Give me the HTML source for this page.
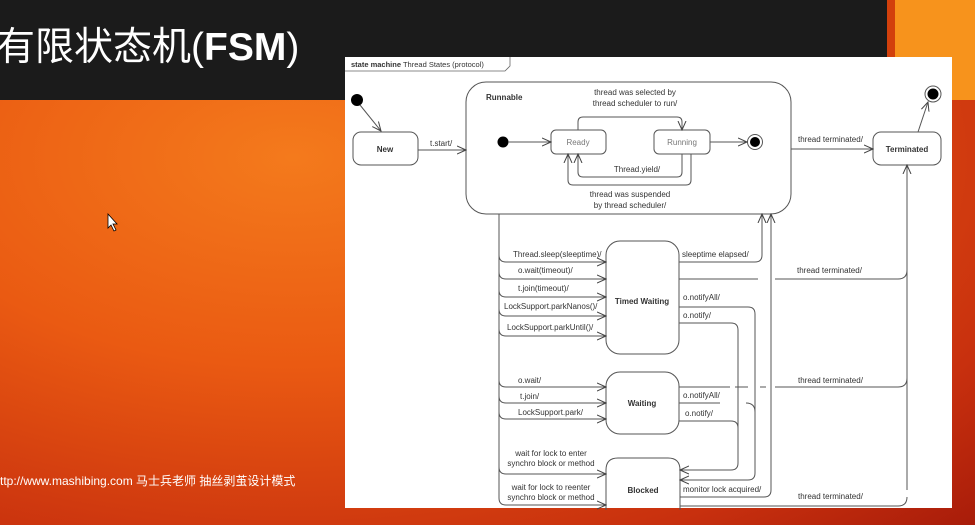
<!DOCTYPE html>
<html><head><meta charset="utf-8"><style>
html,body{margin:0;padding:0;}
body{width:975px;height:525px;overflow:hidden;position:relative;background:radial-gradient(ellipse at 30% 30%,#f47a1c 0%,#ea5a12 40%,#c8300e 80%,#a81c0a 100%);font-family:"Liberation Sans","Noto Sans CJK SC",sans-serif;}
#hdr{position:absolute;left:0;top:0;width:887px;height:100px;background:#1b1b1b;}
#redstrip{position:absolute;left:887px;top:0;width:8px;height:100px;background:#d2400c;}
#org{position:absolute;left:895px;top:0;width:80px;height:100px;background:#f7931c;}
#title{position:absolute;left:-4px;top:16px;color:#fff;font-size:39px;font-family:"Liberation Sans","Noto Sans CJK SC",sans-serif;}
#url{position:absolute;left:0;top:472px;color:#fff;font-size:12px;}
svg{position:absolute;left:0;top:0;}
</style></head><body>
<div id="hdr"></div><div id="redstrip"></div><div id="org"></div>
<div id="title">有限状态机(<b>FSM</b>)</div>
<div id="url">ttp://www.mashibing.com 马士兵老师 抽丝剥茧设计模式</div>
<svg width="975" height="525" viewBox="0 0 975 525" font-family="Liberation Sans, sans-serif" font-size="8" fill="#333">
<defs><marker id="a" markerWidth="10" markerHeight="10" refX="9" refY="5" orient="auto" markerUnits="userSpaceOnUse"><path d="M0,1 L9,5 L0,9" fill="none" stroke="#444" stroke-width="1"/></marker></defs>
<path d="M108,214 L108,228 L111,225 L114,231 L116,230 L113,224 L117,224 Z" fill="#fff" stroke="#000" stroke-width="0.8"/>
<rect x="345" y="57" width="607" height="451" fill="#fff"/>
<path d="M345,71 L505,71 L510,66 L510,57" fill="none" stroke="#666" stroke-width="0.8"/>
<text x="351" y="67" font-size="7.5"><tspan font-weight="bold">state machine</tspan> Thread States (protocol)</text>
<g fill="none" stroke="#555" stroke-width="1">
<rect x="353" y="132" width="65" height="33" rx="8"/>
<rect x="466" y="82" width="325" height="132" rx="20"/>
<rect x="551" y="130" width="55" height="24" rx="5"/>
<rect x="654" y="130" width="56" height="24" rx="5"/>
<rect x="873" y="132" width="68" height="33" rx="8"/>
<rect x="606" y="241" width="73" height="113" rx="14"/>
<rect x="606" y="372" width="73" height="62" rx="14"/>
<path d="M606,510 L606,470 Q606,458 618,458 L668,458 Q680,458 680,470 L680,510"/>
<circle cx="755" cy="142" r="7.5"/>
<circle cx="933" cy="94" r="8"/>
</g>
<g fill="#000"><circle cx="357" cy="100" r="6"/><circle cx="503" cy="142" r="5.5"/><circle cx="755" cy="142" r="5"/><circle cx="933" cy="94" r="5.5"/></g>
<g fill="none" stroke="#555" stroke-width="1" marker-end="url(#a)">
<path d="M360,105 L381,131"/>
<path d="M418,150 L466,150"/>
<path d="M508,142 L551,142"/>
<path d="M578,130 L578,122 Q578,117 583,117 L677,117 Q682,117 682,122 L682,130"/>
<path d="M682,154 L682,172 Q682,177 677,177 L583,177 Q578,177 578,172 L578,154"/>
<path d="M691,154 L691,180 Q691,185 686,185 L573,185 Q568,185 568,180 L568,154"/>
<path d="M710,142 L747,142"/>
<path d="M791,149 L873,149"/>
<path d="M918,132 L928,102"/>
<path d="M907,490 L907,165"/>
<path d="M679,262 L755,262 Q762,262 762,255 L762,214"/>
<path d="M680,497 L764,497 Q771,497 771,490 L771,214"/>
<path d="M499,255 Q499,262 506,262 L606,262"/>
<path d="M499,272 Q499,279 506,279 L606,279"/>
<path d="M499,290 Q499,297 506,297 L606,297"/>
<path d="M499,309 Q499,316 506,316 L606,316"/>
<path d="M499,329 Q499,336 506,336 L606,336"/>
<path d="M499,380 Q499,387 506,387 L606,387"/>
<path d="M499,396 Q499,403 506,403 L606,403"/>
<path d="M499,412 Q499,419 506,419 L606,419"/>
<path d="M499,467 Q499,474 506,474 L606,474"/>
<path d="M499,498 Q499,505 506,505 L606,505"/>
<path d="M679,307 L748,307 Q755,307 755,314 L755,473 Q755,480 748,480 L680,480"/>
<path d="M679,323 L731,323 Q738,323 738,330 L738,463 Q738,470 731,470 L680,470"/>
</g>
<g fill="none" stroke="#555" stroke-width="1">
<path d="M499,214 L499,498"/>
<path d="M679,279 L758,279 M775,279 L898,279 Q907,279 907,270"/>
<path d="M679,387 L730,387 M735,387 L748,387 M760,387 L766,387 M775,387 L898,387 Q907,387 907,378"/>
<path d="M680,506 L898,506 Q907,506 907,497"/>
<path d="M679,403 L720,403 M746,403 Q755,403 755,412"/>
<path d="M679,421 L731,421 Q738,421 738,428"/>
</g>
<text x="486" y="100" font-weight="bold">Runnable</text>
<g text-anchor="middle" fill="#333">
<text x="385" y="152" font-weight="bold">New</text>
<text x="578" y="145" fill="#777">Ready</text>
<text x="682" y="145" fill="#777">Running</text>
<text x="907" y="152" font-weight="bold">Terminated</text>
<text x="642" y="304" font-weight="bold">Timed Waiting</text>
<text x="642" y="406" font-weight="bold">Waiting</text>
<text x="643" y="493" font-weight="bold">Blocked</text>
<text x="635" y="95">thread was selected by</text>
<text x="635" y="106">thread scheduler to run/</text>
<text x="637" y="172">Thread.yield/</text>
<text x="630" y="197">thread was suspended</text>
<text x="630" y="208">by thread scheduler/</text>
<text x="551" y="456">wait for lock to enter</text>
<text x="551" y="466">synchro block or method</text>
<text x="551" y="490">wait for lock to reenter</text>
<text x="551" y="500">synchro block or method</text>
</g>
<g fill="#333">
<text x="430" y="146">t.start/</text>
<text x="798" y="142">thread terminated/</text>
<text x="513" y="257">Thread.sleep(sleeptime)/</text>
<text x="518" y="273">o.wait(timeout)/</text>
<text x="518" y="291">t.join(timeout)/</text>
<text x="504" y="309">LockSupport.parkNanos()/</text>
<text x="507" y="330">LockSupport.parkUntil()/</text>
<text x="518" y="383">o.wait/</text>
<text x="520" y="399">t.join/</text>
<text x="518" y="415">LockSupport.park/</text>
<text x="682" y="257">sleeptime elapsed/</text>
<text x="797" y="273">thread terminated/</text>
<text x="683" y="300">o.notifyAll/</text>
<text x="683" y="318">o.notify/</text>
<text x="798" y="383">thread terminated/</text>
<text x="683" y="398">o.notifyAll/</text>
<text x="685" y="416">o.notify/</text>
<text x="683" y="492">monitor lock acquired/</text>
<text x="798" y="499">thread terminated/</text>
</g>
</svg>
</body></html>
